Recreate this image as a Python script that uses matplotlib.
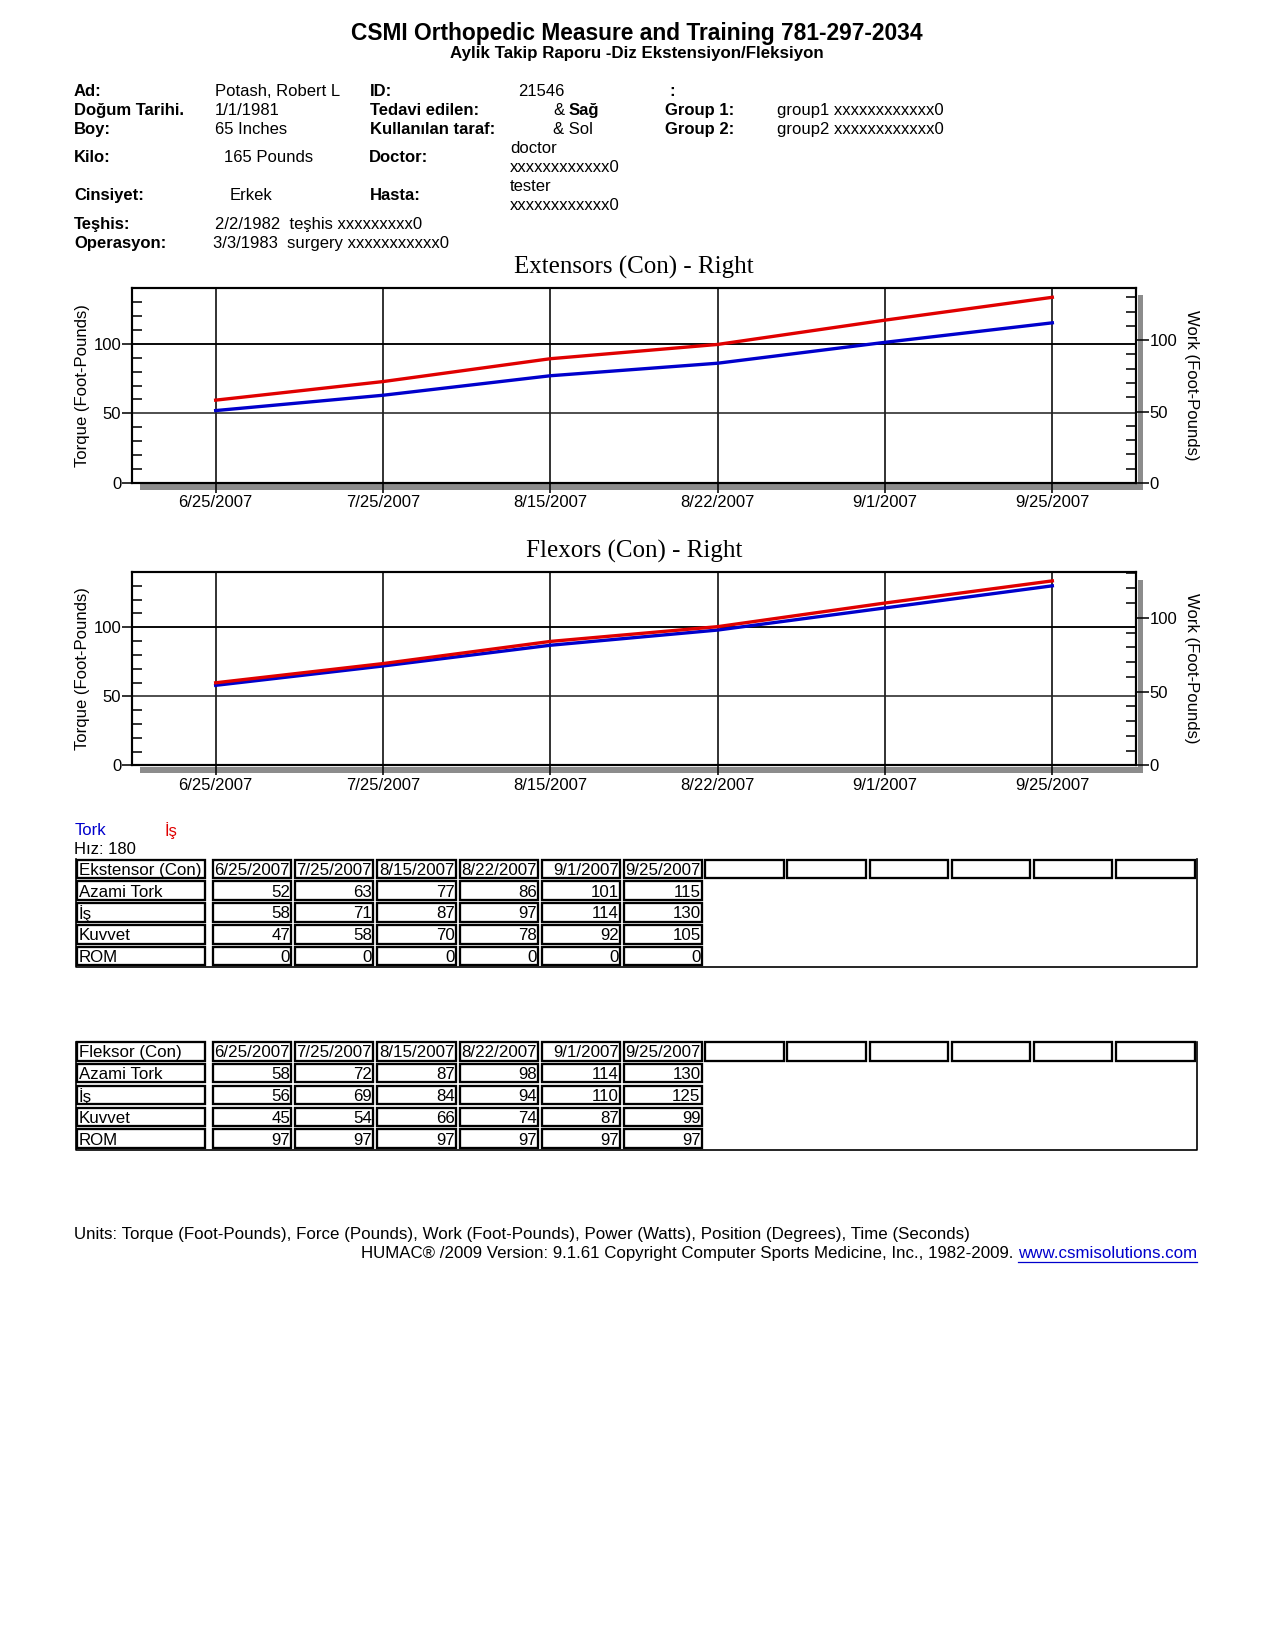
import numpy as np
import matplotlib.pyplot as plt
from matplotlib.patches import Rectangle
from matplotlib.ticker import FixedLocator

plt.rcParams['font.family'] = ['Liberation Sans', 'DejaVu Sans']

W, H = 1275, 1650

# -----------------------------------------------------------------------------
# data
# -----------------------------------------------------------------------------
dates = ['6/25/2007', '7/25/2007', '8/15/2007', '8/22/2007', '9/1/2007', '9/25/2007']

ext_torque = [52, 63, 77, 86, 101, 115]
ext_work = [58, 71, 87, 97, 114, 130]
ext_kuvvet = [47, 58, 70, 78, 92, 105]
ext_rom = [0, 0, 0, 0, 0, 0]

flex_torque = [58, 72, 87, 98, 114, 130]
flex_work = [56, 69, 84, 94, 110, 125]
flex_kuvvet = [45, 54, 66, 74, 87, 99]
flex_rom = [97, 97, 97, 97, 97, 97]

row_labels = ['Azami Tork', 'İş', 'Kuvvet', 'ROM']

title = 'CSMI Orthopedic Measure and Training 781-297-2034'
subtitle = 'Aylik Takip Raporu -Diz Ekstensiyon/Fleksiyon'
units_line = ('Units: Torque (Foot-Pounds), Force (Pounds), Work (Foot-Pounds), '
              'Power (Watts), Position (Degrees), Time (Seconds)')
copyright_line = 'HUMAC® /2009 Version: 9.1.61 Copyright Computer Sports Medicine, Inc., 1982-2009. '
url = 'www.csmisolutions.com'

RED = '#e00000'
BLUE = '#0000cc'
SHADOW = '#8c8c8c'

fig = plt.figure(figsize=(W / 150, H / 150), dpi=150)

# full page overlay in pixel coordinates (y down)
page = fig.add_axes([0, 0, 1, 1])
page.set_xlim(0, W)
page.set_ylim(H, 0)
page.axis('off')


def txt(x, y, s, bold=False, size=8, **kw):
    return page.text(x, y, s, fontsize=size, fontweight='bold' if bold else 'normal',
                     va='center_baseline', **kw)


def fig_rect(x0, y0, x1, y1):
    return [x0 / W, 1 - y1 / H, (x1 - x0) / W, (y1 - y0) / H]


# -----------------------------------------------------------------------------
# header
# -----------------------------------------------------------------------------
txt(637, 31, title, bold=True, size=10.9, ha='center')
txt(637, 52, subtitle, bold=True, size=8.1, ha='center')

txt(74, 90, 'Ad:', True); txt(215, 90, 'Potash, Robert L')
txt(74, 109, 'Doğum Tarihi.', True); txt(215, 109, '1/1/1981')
txt(74, 128, 'Boy:', True); txt(215, 128, '65 Inches')
txt(74, 156, 'Kilo:', True); txt(224, 156, '165 Pounds')
txt(74, 194, 'Cinsiyet:', True); txt(230, 194, 'Erkek')
txt(74, 223, 'Teşhis:', True); txt(215, 223, '2/2/1982  teşhis xxxxxxxxx0')
txt(74, 242, 'Operasyon:', True); txt(213, 242, '3/3/1983  surgery xxxxxxxxxxx0')

txt(370, 90, 'ID:', True); txt(518, 90, '21546')
txt(370, 109, 'Tedavi edilen:', True); txt(553, 109, '&'); txt(569, 109, 'Sağ', True)
txt(370, 128, 'Kullanılan taraf:', True); txt(553, 128, '& Sol')
txt(369, 156, 'Doctor:', True); txt(510, 147, 'doctor'); txt(510, 166, 'xxxxxxxxxxxx0')
txt(370, 194, 'Hasta:', True); txt(510, 185, 'tester'); txt(510, 204, 'xxxxxxxxxxxx0')

txt(669, 90, ':', True)
txt(665, 109, 'Group 1:', True); txt(777, 109, 'group1 xxxxxxxxxxxx0')
txt(665, 128, 'Group 2:', True); txt(777, 128, 'group2 xxxxxxxxxxxx0')


# -----------------------------------------------------------------------------
# charts
# -----------------------------------------------------------------------------
L, R = 132, 1136


def draw_chart(top, bottom, chart_title, torque, work, work_max, shadow_top):
    ax = fig.add_axes(fig_rect(L, top, R, bottom))
    x = np.arange(len(dates))
    ax.set_xlim(-0.5, len(dates) - 0.5)
    ax.set_ylim(0, 140)

    for xi in x:
        ax.axvline(xi, color='black', lw=0.75, zorder=1)
    ax.axhline(50, color='#222222', lw=0.75, zorder=1)
    ax.axhline(100, color='black', lw=0.9, zorder=1)

    ax.plot(x, torque, color=BLUE, lw=1.6, zorder=3)

    ax.set_xticks(x)
    ax.set_xticklabels(dates)
    ax.set_yticks([0, 50, 100])
    ax.yaxis.set_minor_locator(FixedLocator([10, 20, 30, 40, 60, 70, 80, 90, 110, 120, 130]))
    ax.tick_params(axis='x', direction='out', length=4.6, width=0.75, labelsize=8, pad=1.2)
    ax.tick_params(axis='y', which='major', direction='out', length=4.6, width=0.75,
                   labelsize=8, pad=0.6)
    ax.tick_params(axis='y', which='minor', direction='in', length=4.6, width=0.75)
    for sp in ax.spines.values():
        sp.set_linewidth(1.0)
    ax.set_ylabel('Torque (Foot-Pounds)', fontsize=8, va='center')
    ax.yaxis.set_label_coords((83 - L) / (R - L), 0.5)

    ax2 = ax.twinx()
    ax2.set_ylim(0, work_max)
    ax2.plot(x, work, color=RED, lw=1.6, zorder=3)
    ax2.set_yticks([0, 50, 100])
    ax2.yaxis.set_minor_locator(FixedLocator([10, 20, 30, 40, 60, 70, 80, 90, 110, 120, 130]))
    ax2.tick_params(axis='y', which='major', direction='out', length=6, width=0.75,
                    labelsize=8, pad=0.6)
    ax2.tick_params(axis='y', which='minor', direction='in', length=4.6, width=0.75)
    for sp in ax2.spines.values():
        sp.set_linewidth(1.0)
    ax2.set_ylabel('Work (Foot-Pounds)', fontsize=8, rotation=270, va='center')
    ax2.yaxis.set_label_coords((1191 - L) / (R - L), 0.5)

    # grey drop shadow along the bottom and right axis
    page.add_patch(Rectangle((140, bottom + 1), R + 7 - 140, 6, color=SHADOW, lw=0, zorder=0))
    page.add_patch(Rectangle((R + 1.5, shadow_top), 5.5, bottom + 7 - shadow_top,
                             color=SHADOW, lw=0, zorder=0))

    page.text((L + R) / 2, top - 21, chart_title, fontsize=12, family='Liberation Serif',
              ha='center', va='center')
    return ax


draw_chart(288, 483, 'Extensors (Con) - Right', ext_torque, ext_work, 136.5, 295)
draw_chart(572, 765.5, 'Flexors (Con) - Right', flex_torque, flex_work, 131, 580)

# -----------------------------------------------------------------------------
# legend and tables
# -----------------------------------------------------------------------------
txt(74.5, 829, 'Tork', color=BLUE)
txt(164, 829, 'İş', color=RED)
txt(74.5, 848, 'Hız: 180')

col_edges = [75.6, 207, 293, 375, 458, 540, 622, 703.5, 785.5, 868, 950, 1032, 1114, 1197]
ROW_H = 21.8


def cell(x0, x1, y0, y1):
    page.add_patch(Rectangle((x0 + 1.8, y0 + 1.6), x1 - x0 - 3.6, y1 - y0 - 3.2,
                             fill=False, ec='black', lw=1.1, zorder=2))


def draw_table(top, name, rows):
    bottom = top + ROW_H * (len(rows) + 1)
    # header row
    cell(col_edges[0], col_edges[1], top, top + ROW_H)
    txt(col_edges[0] + 3, top + ROW_H / 2, name, size=8.1)
    for j in range(len(col_edges) - 2):
        x0 = col_edges[j + 1] + (4 if j == 0 else 0)
        cell(x0, col_edges[j + 2], top, top + ROW_H)
        if j < len(dates):
            txt(col_edges[j + 2] - 3, top + ROW_H / 2, dates[j], ha='right', size=8.1)
    # data rows
    for i, (label, values) in enumerate(zip(row_labels, rows)):
        y0 = top + ROW_H * (i + 1)
        cell(col_edges[0], col_edges[1], y0, y0 + ROW_H)
        txt(col_edges[0] + 3, y0 + ROW_H / 2, label, size=8.1)
        for j, v in enumerate(values):
            x0 = col_edges[j + 1] + (4 if j == 0 else 0)
            cell(x0, col_edges[j + 2], y0, y0 + ROW_H)
            txt(col_edges[j + 2] - 3, y0 + ROW_H / 2, str(v), ha='right', size=8.1)
    # outer frame
    page.plot([col_edges[0] + 0.5, col_edges[0] + 0.5, col_edges[-1], col_edges[-1]],
              [top + 1, bottom, bottom, top + 1], color='black', lw=0.8, zorder=2)


draw_table(858, 'Ekstensor (Con)', [ext_torque, ext_work, ext_kuvvet, ext_rom])
draw_table(1040.5, 'Fleksor (Con)', [flex_torque, flex_work, flex_kuvvet, flex_rom])

# -----------------------------------------------------------------------------
# footer
# -----------------------------------------------------------------------------
txt(74.5, 1233, units_line, size=8.1)
u = txt(1197, 1252, url, ha='right', color=BLUE, size=8.1)
fig.canvas.draw()
bb = u.get_window_extent()
url_left = bb.x0
page.plot([bb.x0, bb.x1], [H - bb.y0 + 0.5, H - bb.y0 + 0.5], color=BLUE, lw=0.6)
txt(url_left, 1252, copyright_line, ha='right', size=8.1)

fig.savefig('out.png', dpi=150)
